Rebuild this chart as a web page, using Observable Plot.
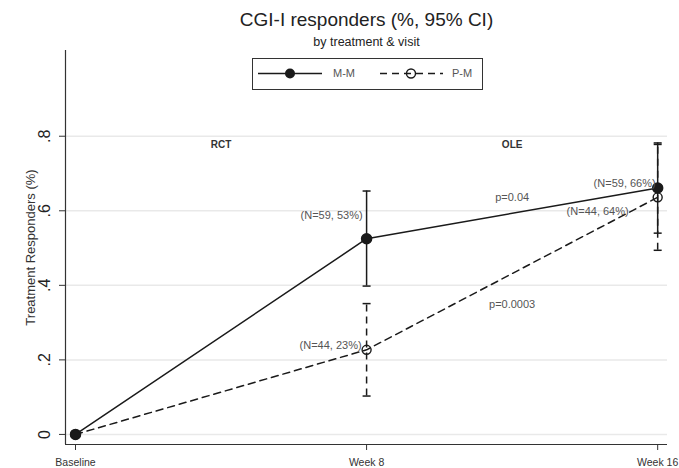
<!DOCTYPE html>
<html>
<head>
<meta charset="utf-8">
<script src="https://cdn.jsdelivr.net/npm/d3@7"></script>
<script src="https://cdn.jsdelivr.net/npm/@observablehq/plot@0.6"></script>
<style>
  html, body { margin: 0; padding: 0; background: #fff; overflow: hidden; }
  #chart svg { display: block; overflow: visible; }
</style>
</head>
<body>
<div id="chart"></div>
<script>
// ---- data ----
const weeks = [0, 8, 16];
const weekLabels = ["Baseline", "Week 8", "Week 16"];
const mmValue = [0, 0.525, 0.661];
const mmLow = [null, 0.398, 0.540];
const mmHigh = [null, 0.653, 0.782];
const mmN = [null, 59, 59];
const pmValue = [0, 0.227, 0.636];
const pmLow = [null, 0.103, 0.494];
const pmHigh = [null, 0.351, 0.778];
const pmN = [null, 44, 44];
const yTicks = [0, 0.2, 0.4, 0.6, 0.8];
const yTickLabels = ["0", ".2", ".4", ".6", ".8"];
const periodText = ["RCT", "OLE"];
const periodWeek = [4, 12];
const periodValue = [0.776, 0.776];
const pText = ["p=0.04", "p=0.0003"];
const pWeek = [12, 12];
const pValue = [0.636, 0.349];
const xDomain = [-0.275, 16.27];
const yDomain = [-0.027, 1.03];

const mm = weeks.map((w, i) => ({week: w, value: mmValue[i], lo: mmLow[i], hi: mmHigh[i], n: mmN[i]}));
const pm = weeks.map((w, i) => ({week: w, value: pmValue[i], lo: pmLow[i], hi: pmHigh[i], n: pmN[i]}));
const ci = d => d.lo != null;
const lab = d => `(N=${d.n}, ${Math.round(d.value * 100)}%)`;
const periods = periodText.map((t, i) => ({t, week: periodWeek[i], value: periodValue[i]}));
const pvals = pText.map((t, i) => ({t, week: pWeek[i], value: pValue[i]}));
const yt = yTicks.map((v, i) => ({v, t: yTickLabels[i]}));
const xt = weeks.map((w, i) => ({w, t: weekLabels[i]}));

const ink = "#1a1a1a";
const grey = "#555";
const dash = "7,5";
const capSymbol = { draw(ctx, size) { const w = Math.sqrt(size / Math.PI); ctx.moveTo(-w, 0); ctx.lineTo(w, 0); } };
const font = "'Liberation Sans', Arial, Helvetica, sans-serif";

const chart = Plot.plot({
  width: 679,
  height: 468,
  marginLeft: 65,
  marginRight: 12,
  marginTop: 50,
  marginBottom: 24,
  style: { fontFamily: font, background: "#fff", overflow: "visible" },
  x: { domain: xDomain },
  y: { domain: yDomain },
  marks: [
    Plot.gridY(yTicks, { stroke: "#e9e9e9", strokeOpacity: 1, strokeWidth: 1.5 }),
    Plot.ruleX([xDomain[0]], { stroke: "#333", strokeWidth: 1.2 }),
    Plot.ruleY([yDomain[0]], { stroke: "#333", strokeWidth: 1.2 }),
    Plot.axisY({ ticks: yTicks, tickSize: 6, tickFormat: () => "", stroke: "#333" }),
    Plot.text(yt, { y: "v", text: "t", frameAnchor: "left", dx: -21, rotate: -90, textAnchor: "middle", fontSize: 16, fill: "#222" }),
    Plot.text(["Treatment Responders (%)"], { frameAnchor: "left", dx: -35, rotate: -90, textAnchor: "middle", fontSize: 13, fill: "#333" }),
    Plot.axisX({ ticks: weeks, tickSize: 6, tickFormat: () => "", stroke: "#333" }),
    Plot.text(xt, { x: "w", text: "t", frameAnchor: "bottom", dy: 18, lineAnchor: "middle", fontSize: 10.5, fill: "#333" }),
    // error bars
    Plot.ruleX(mm.filter(ci), { x: "week", y1: "lo", y2: "hi", stroke: ink, strokeWidth: 1.5 }),
    Plot.ruleX(pm.filter(ci), { x: "week", y1: "lo", y2: "hi", stroke: ink, strokeWidth: 1.5, strokeDasharray: dash }),
    Plot.dot(mm.filter(ci), { x: "week", y: "lo", symbol: capSymbol, r: 4, stroke: ink, strokeWidth: 1.5 }),
    Plot.dot(mm.filter(ci), { x: "week", y: "hi", symbol: capSymbol, r: 4, stroke: ink, strokeWidth: 1.5 }),
    Plot.dot(pm.filter(ci), { x: "week", y: "lo", symbol: capSymbol, r: 4, stroke: ink, strokeWidth: 1.5 }),
    Plot.dot(pm.filter(ci), { x: "week", y: "hi", symbol: capSymbol, r: 4, stroke: ink, strokeWidth: 1.5 }),
    // lines
    Plot.line(pm, { x: "week", y: "value", stroke: ink, strokeWidth: 1.5, strokeDasharray: dash }),
    Plot.line(mm, { x: "week", y: "value", stroke: ink, strokeWidth: 1.5 }),
    Plot.dot(pm, { x: "week", y: "value", r: 4.5, stroke: ink, strokeWidth: 1.4, fill: "none" }),
    Plot.dot(mm, { x: "week", y: "value", r: 5, fill: ink, stroke: ink }),
    // point labels
    Plot.text([mm[1]], { x: "week", y: "value", text: lab, textAnchor: "end", dx: -4, dy: -23, fontSize: 11, fill: grey }),
    Plot.text([mm[2]], { x: "week", y: "value", text: lab, textAnchor: "end", dx: -2, dy: -5, fontSize: 11, fill: grey }),
    Plot.text([pm[1]], { x: "week", y: "value", text: lab, textAnchor: "end", dx: -5, dy: -4, fontSize: 11, fill: grey }),
    Plot.text([pm[2]], { x: "week", y: "value", text: lab, textAnchor: "end", dx: -29, dy: 14, fontSize: 11, fill: grey }),
    // annotations
    Plot.text(periods, { x: "week", y: "value", text: "t", fontSize: 10, fontWeight: "bold", fill: "#333" }),
    Plot.text(pvals, { x: "week", y: "value", text: "t", fontSize: 11, fill: grey }),
    // title & subtitle
    Plot.text(["CGI-I responders (%, 95% CI)"], { frameAnchor: "top", dy: -25, lineAnchor: "bottom", fontSize: 19, fill: "#222" }),
    Plot.text(["by treatment & visit"], { frameAnchor: "top", dy: -5, lineAnchor: "bottom", fontSize: 12.5, fill: "#222" })
  ]
});

document.getElementById("chart").appendChild(chart);

// legend box drawn inside the plot region
const svg = d3.select(chart);
const g = svg.append("g").attr("font-family", font).attr("text-anchor", "start");
g.append("rect").attr("x", 252.5).attr("y", 58.5).attr("width", 230).attr("height", 31)
  .attr("fill", "#fff").attr("stroke", "#333").attr("stroke-width", 1);
const ly = 73.5;
g.append("line").attr("x1", 258).attr("x2", 322).attr("y1", ly).attr("y2", ly).attr("stroke", ink).attr("stroke-width", 1.5);
g.append("circle").attr("cx", 290).attr("cy", ly).attr("r", 5).attr("fill", ink);
g.append("text").attr("x", 333).attr("y", ly).attr("dy", "0.35em").attr("font-size", 11).attr("fill", grey).attr("text-anchor", "start").text("M-M");
g.append("line").attr("x1", 380).attr("x2", 443).attr("y1", ly).attr("y2", ly).attr("stroke", ink).attr("stroke-width", 1.5).attr("stroke-dasharray", dash);
g.append("circle").attr("cx", 411).attr("cy", ly).attr("r", 4.5).attr("fill", "none").attr("stroke", ink).attr("stroke-width", 1.4);
g.append("text").attr("x", 452).attr("y", ly).attr("dy", "0.35em").attr("font-size", 11).attr("fill", grey).attr("text-anchor", "start").text("P-M");
</script>
</body>
</html>
